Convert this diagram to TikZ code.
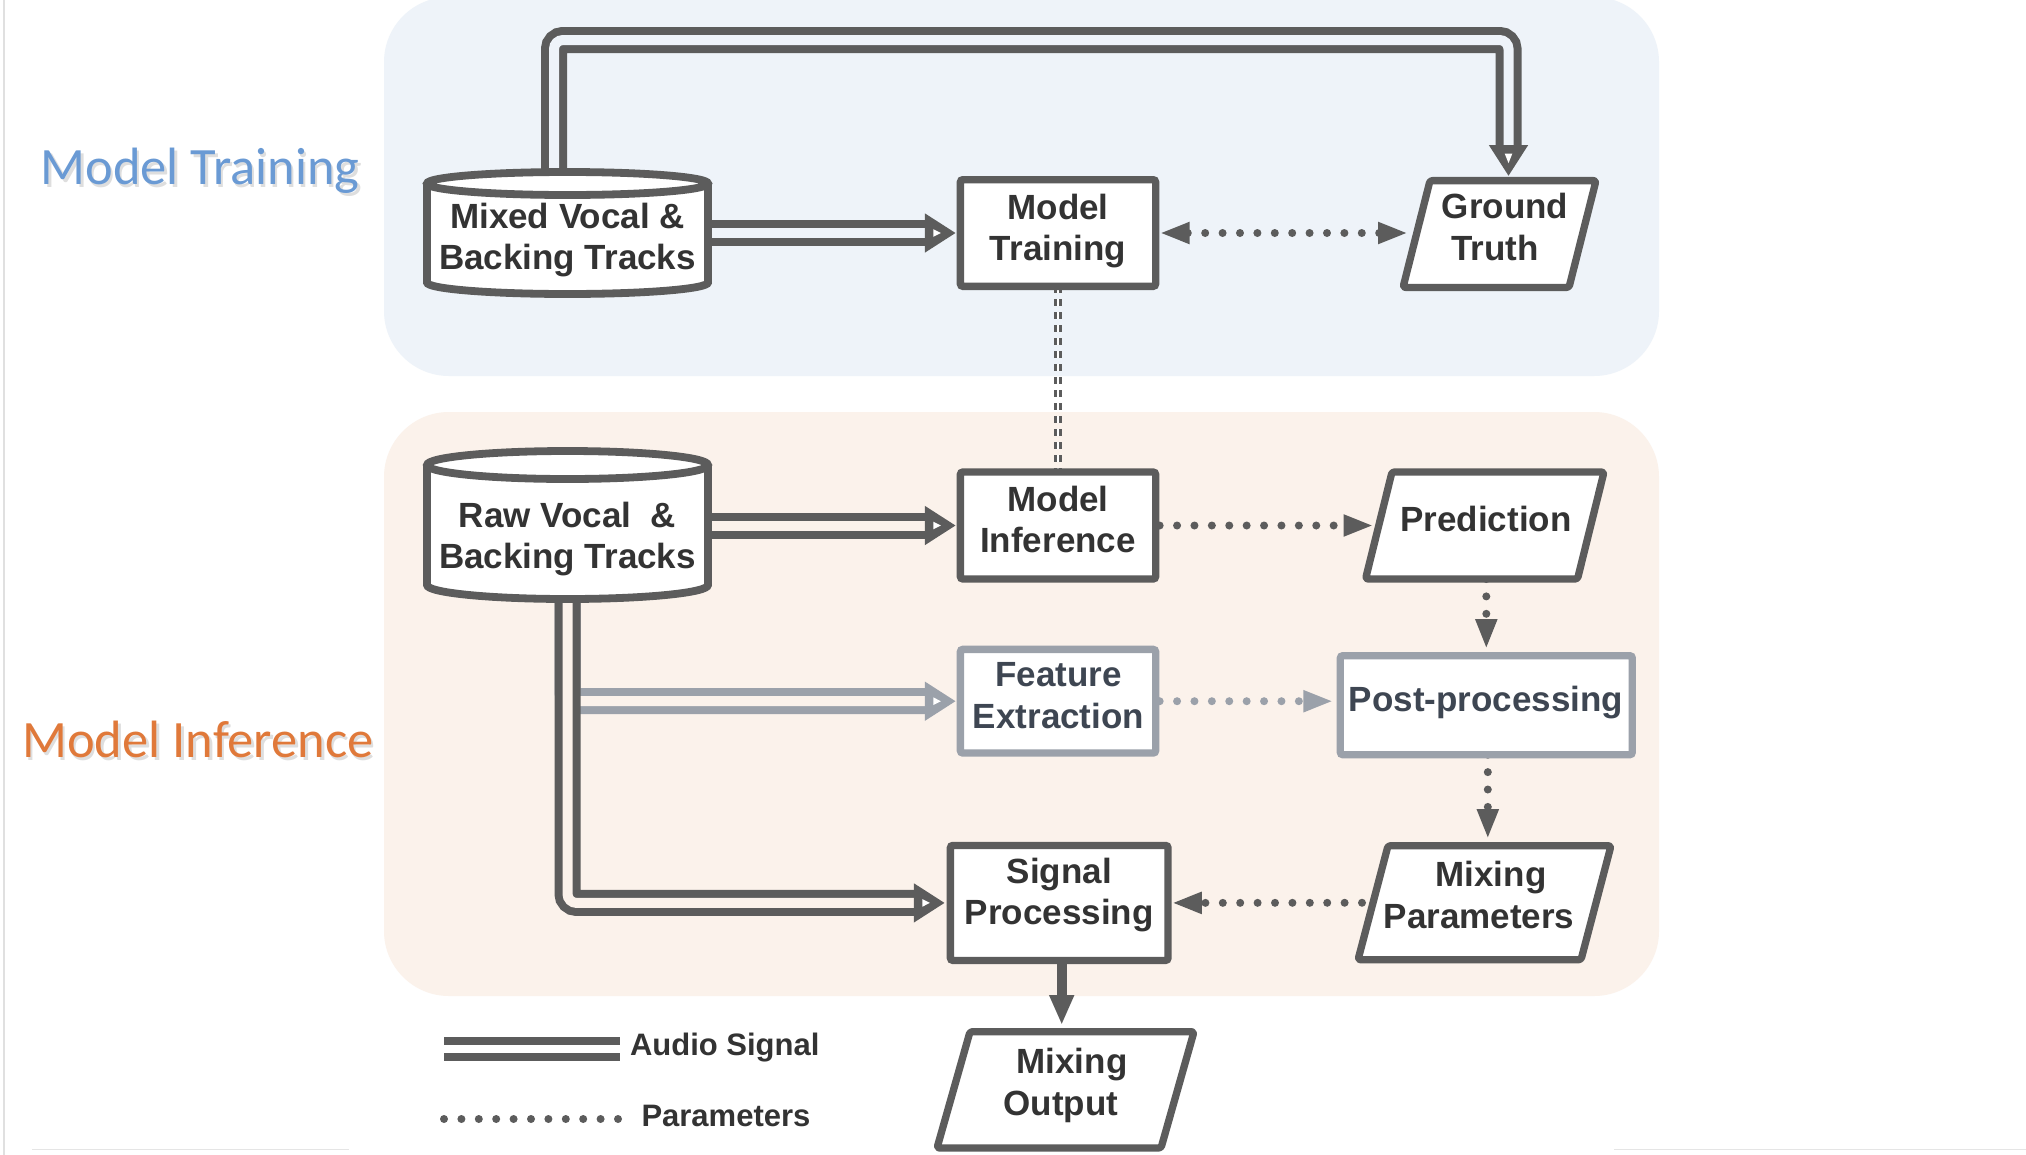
\documentclass[tikz,border=0pt]{standalone}
\usepackage{fontspec}
\setmainfont{Liberation Sans}
\newfontfamily\calibfont{Carlito}
\usetikzlibrary{arrows.meta}
\definecolor{dk}{RGB}{92,92,92}
\definecolor{gr}{RGB}{155,161,170}
\definecolor{tx}{RGB}{51,51,51}
\definecolor{txs}{RGB}{62,70,82}
\definecolor{toppan}{RGB}{238,243,249}
\definecolor{botpan}{RGB}{251,242,235}
\definecolor{lblue}{RGB}{106,154,212}
\definecolor{lorange}{RGB}{224,121,58}
\newcommand{\drawcyl}[2]{%
  \fill[white] ([yshift=-#2]#1.north west) -- ([yshift=#2]#1.south west)
    arc[start angle=180,end angle=360,x radius=140.5pt,y radius=#2]
    -- ([yshift=-#2]#1.north east)
    arc[start angle=0,end angle=180,x radius=140.5pt,y radius=#2] -- cycle;
  \draw[cylline] ([yshift=-#2]#1.north west) -- ([yshift=#2]#1.south west)
    arc[start angle=180,end angle=360,x radius=140.5pt,y radius=#2]
    -- ([yshift=-#2]#1.north east);
  \draw[cylline] ([yshift=-#2]#1.north) ellipse[x radius=140.5pt,y radius=#2];}
\newcommand{\pgram}[2]{%
  \draw[pline] (#1.south west) -- ([xshift=-#2]#1.south east) -- (#1.north east)
    -- ([xshift=#2]#1.north west) -- cycle;}
% white notch inside the heads of the double arrows
\newcommand{\notchR}[1]{%
  \fill[white] ([xshift=-22.5pt,yshift=3.8pt]#1) -- ([xshift=-15pt]#1)
    -- ([xshift=-22.5pt,yshift=-3.8pt]#1) -- cycle;}
\newcommand{\notchD}[1]{%
  \fill[white] ([yshift=22.5pt,xshift=3.8pt]#1) -- ([yshift=13pt]#1)
    -- ([yshift=22.5pt,xshift=-3.8pt]#1) -- cycle;}
\tikzset{
  pframe/.style={draw=none, inner sep=0pt, outer sep=0pt},
  box/.style={draw=dk, line width=7.3pt, fill=white, rounded corners=2.5pt},
  gbox/.style={box, draw=gr},
  pline/.style={draw=dk, line width=7.3pt, fill=white, rounded corners=2.5pt, line join=round},
  cylline/.style={draw=dk, line width=7.8pt},
  txt/.style={font=\fontsize{35}{41.5}\selectfont\bfseries, text=tx, inner sep=0pt, outer sep=0pt, align=center},
  ptxt/.style={txt, anchor=base},
  legtxt/.style={font=\fontsize{31}{37}\selectfont\bfseries, text=tx, inner sep=0pt, outer sep=0pt},
  lbl/.style={font=\calibfont\fontsize{52.5}{60}\selectfont, inner sep=0pt, outer sep=0pt, anchor=base},
  dbl/.style={draw=dk, double=#1, line width=8pt, double distance=10pt, rounded corners=9pt,
    -{Triangle[length=31pt,width=37pt]}},
  gdbl/.style={draw=gr, double=botpan, line width=8pt, double distance=10pt, rounded corners=9pt,
    -{Triangle[length=31pt,width=37pt]}},
  dotline/.style={draw=#1, line width=8pt, line cap=round, dash pattern=on 0pt off 17.4pt,
    -{Triangle[length=30pt,width=20pt]}},
  ddash/.style={draw=dk, double=white, line width=3pt, double distance=2pt, dash pattern=on 7pt off 6pt},
  solidarrow/.style={draw=dk, line width=10pt, -{Triangle[length=30pt,width=23pt]}}
}
\begin{document}
\begin{tikzpicture}[x=1pt,y=1pt]
\useasboundingbox (0,0) rectangle (2026,-1154);
\fill[white] (0,0) rectangle (2026,-1154);
% screenshot edges
\draw[line width=2.5pt, black!12] (4,3) -- (4,-1157);
\draw[line width=1.5pt, black!10] (32,-1149.5) -- (349,-1149.5);
\draw[line width=1.5pt, black!10] (1614,-1149.5) -- (2026,-1149.5);
% panels
\fill[toppan, rounded corners=65pt] (384,3) rectangle (1659,-376);
\fill[botpan, rounded corners=65pt] (384,-412) rectangle (1659,-996);
% panel labels (with a soft shadow)
\node[lbl, text=black, text opacity=0.13] (ltS) at (202.5,-187.5) {Model Training};
\node[lbl, text=lblue] (lt) at (200,-184) {Model Training};
\node[lbl, text=black, text opacity=0.13] (liS) at (200.5,-760.8) {Model Inference};
\node[lbl, text=lorange] (li) at (198,-757.3) {Model Inference};
% shape frames
\node[pframe, minimum width=281pt, minimum height=122pt] (mixed) at (567.5,-233) {};
\node[pframe, minimum width=281pt, minimum height=148pt] (raw) at (567.5,-525) {};
\node[pframe, minimum width=195.3pt, minimum height=106.7pt] (mtrain) at (1058,-233) {};
\node[pframe, minimum width=195.3pt, minimum height=107pt] (minf) at (1058,-525.5) {};
\node[pframe, minimum width=195.3pt, minimum height=103.7pt] (feat) at (1058,-701.2) {};
\node[pframe, minimum width=292pt, minimum height=99pt] (post) at (1486.3,-705.2) {};
\node[pframe, minimum width=217.7pt, minimum height=115pt] (sig) at (1059.2,-902.9) {};
\node[pframe, minimum width=193pt, minimum height=106.8pt] (gt) at (1499.5,-234) {};
\node[pframe, minimum width=238.5pt, minimum height=107pt] (pred) at (1484.75,-525.5) {};
\node[pframe, minimum width=253pt, minimum height=114pt] (mixp) at (1484.5,-902.75) {};
\node[pframe, minimum width=257pt, minimum height=116.3pt] (mout) at (1065.5,-1089.85) {};
% helper coordinates
\coordinate (loopY) at (0,-40);
\coordinate (mxTop) at ([xshift=-13.5pt]mixed.north);
\coordinate (gtTop) at ([xshift=9pt,yshift=4.5pt]gt.north);
\path (mtrain.east -| gt.west) coordinate (gtL);
\path (pred.south -| post.north) coordinate (pS);
\path (feat.east -| post.west) coordinate (poL);
\path ([xshift=1.5pt]post.south) coordinate (pB);
\path (pB |- mixp.north) coordinate (mT);
\path ([xshift=2.5pt]sig.south) coordinate (sB);
\path (sB |- mout.north) coordinate (oT);
\path (raw.east |- minf.west) coordinate (rE);
\coordinate (tipTrain) at ([xshift=-4.5pt]mtrain.west);
\coordinate (tipInf) at ([xshift=-4.5pt]minf.west);
\coordinate (tipFeat) at ([xshift=-4.5pt]feat.west);
\coordinate (tipSig) at ([xshift=-5.5pt]sig.west);
% connectors
\draw[dbl=toppan] (mxTop) -- (mxTop |- loopY) -- (gtTop |- loopY) -- (gtTop);
\draw[dbl=toppan] (mixed.east) -- (tipTrain);
\draw[dotline=dk, {Triangle[length=30pt,width=20pt]}-{Triangle[length=30pt,width=20pt]}]
  ([xshift=4pt]mtrain.east) -- ([xshift=5pt]gtL);
\draw[ddash] (mtrain.south) -- (minf.north);
\draw[dbl=botpan] (rE) -- (tipInf);
\draw[gdbl] (raw.south) |- (tipFeat);
\draw[dbl=botpan] (raw.south) |- (tipSig);
\draw[dotline=dk] ([xshift=4pt]minf.east) -- ([xshift=8pt]pred.west);
\draw[dotline=dk] (pS) -- ([yshift=6.6pt]post.north);
\draw[dotline=gr] ([xshift=4pt]feat.east) -- ([xshift=-7pt]poL);
\draw[dotline=dk] (pB) -- ([yshift=6.7pt]mT);
\draw[dotline=dk] ([xshift=4pt]mixp.west) -- ([xshift=3.7pt]sig.east);
\draw[solidarrow] (sB) -- ([yshift=6.7pt]oT);
\notchD{gtTop}
\notchR{tipTrain}
\notchR{tipInf}
\notchR{tipFeat}
\notchR{tipSig}
% shapes
\drawcyl{mixed}{11.5pt}
\drawcyl{raw}{14pt}
\draw[box] (mtrain.south west) rectangle (mtrain.north east);
\draw[box] (minf.south west) rectangle (minf.north east);
\draw[gbox] (feat.south west) rectangle (feat.north east);
\draw[gbox] (post.south west) rectangle (post.north east);
\draw[box] (sig.south west) rectangle (sig.north east);
\pgram{gt}{27pt}
\pgram{pred}{26.5pt}
\pgram{mixp}{30pt}
\pgram{mout}{33pt}
% texts
\node[txt] (tMixed) at (567.5,-240.45) {Mixed Vocal \&\strut\\Backing Tracks\strut};
\node[txt] (tRaw) at (567.5,-539.45) {Raw Vocal\ \ \&\strut\\Backing Tracks\strut};
\node[txt] (tTrain) at (1058,-231.75) {Model\strut\\Training\strut};
\node[txt] (tInf) at (1058,-523.45) {Model\strut\\Inference\strut};
\node[txt, text=txs] (tFeat) at (1058.5,-699.15) {Feature\strut\\Extraction\strut};
\node[ptxt, text=txs] (tPost) at (1486,-711.7) {Post-processing};
\node[txt] (tSig) at (1059.2,-895.75) {Signal\strut\\Processing\strut};
\node[ptxt] (tGt1) at (1505,-218.5) {Ground};
\node[ptxt] (tGt2) at (1495,-260) {Truth};
\node[ptxt] (tPred) at (1486,-531.7) {Prediction};
\node[ptxt] (tMp1) at (1491,-886) {Mixing};
\node[ptxt] (tMp2) at (1479,-928.5) {Parameters};
\node[ptxt] (tMo1) at (1072,-1073) {Mixing};
\node[ptxt] (tMo2) at (1061,-1115) {Output};
% legend
\coordinate (lgA1) at (444,-1049);
\coordinate (lgA2) at (620,-1049);
\draw[draw=dk, line width=8.5pt, double=white, double distance=7.5pt] (lgA1) -- (lgA2);
\node[legtxt, anchor=base west] (lgAt) at (630,-1055.5) {Audio Signal};
\coordinate (lgB1) at (444,-1119);
\coordinate (lgB2) at (620,-1119);
\draw[dotline=dk, -] (lgB1) -- (lgB2);
\node[legtxt, anchor=base west] (lgBt) at (641.5,-1126.5) {Parameters};
\end{tikzpicture}
\end{document}
